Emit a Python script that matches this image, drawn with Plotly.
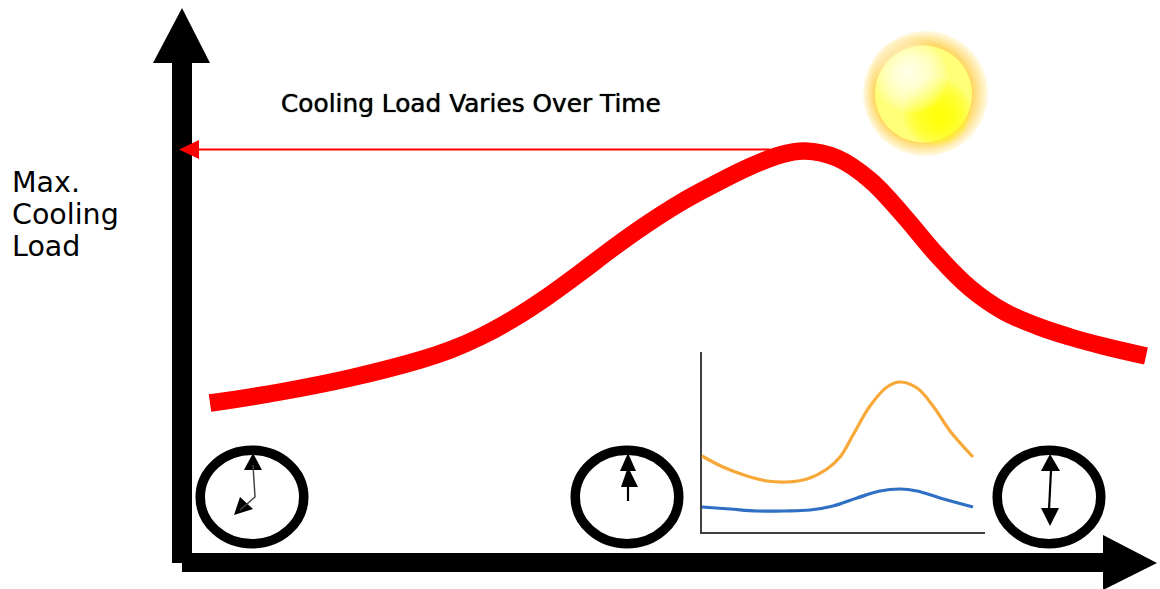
import plotly.graph_objects as go

# Main load curve and inset curves, read in picture units
load_x = [210, 280, 350, 420, 450, 480, 513, 547, 580, 613, 647, 680, 713, 747, 780, 805, 837, 870, 903, 937, 970, 1003, 1037, 1070, 1103, 1146]
load_y = [403, 392, 378, 360, 350, 337, 319, 297, 273, 248, 224, 203, 185, 168, 155, 151, 158, 180, 215, 255, 288, 311, 326, 337, 346, 356]
orange_x = [702, 723, 747, 767, 787, 807, 827, 840, 853, 870, 887, 900, 917, 933, 950, 973]
orange_y = [456, 467, 476, 481, 482, 479, 469, 457, 435, 406, 387, 382, 388, 406, 431, 457]
blue_x = [702, 730, 757, 785, 810, 833, 857, 880, 900, 917, 940, 973]
blue_y = [507, 509, 511, 511, 510, 506, 498, 491, 489, 491, 498, 507]
inset_axis_x = [701, 701, 985]
inset_axis_y = [352, 533, 533]
guide_x = [770, 196]
guide_y = [149.5, 149.5]
title_text = "Cooling Load Varies Over Time"
ylabel_lines = ["Max.", "Cooling", "Load"]
ylabel_y = [182, 214, 246]

clock_centers = [252, 627, 1049]
clock_cy = 497

polygons = [
    # main axes
    ("black", [172, 192, 192, 172], [63, 63, 563, 563]),
    ("black", [153, 182, 210], [63, 8, 63]),
    ("black", [182, 1104, 1104, 182], [553, 553, 572, 572]),
    ("black", [1103, 1157, 1103], [535, 563, 590]),
    # red guide arrow head
    ("#ff0000", [179, 199, 199], [149.5, 140, 159]),
    # clock hands heads
    ("black", [244, 253, 262], [470, 453, 470]),
    ("black", [234, 240, 253], [515, 497, 509]),
    ("black", [620, 628, 636], [471, 453, 471]),
    ("black", [621, 628, 638], [487, 467, 487]),
    ("black", [1041, 1050, 1060], [471, 454, 471]),
    ("black", [1041, 1050, 1059], [508, 526, 508]),
]
hands = [
    ([253, 255, 240], [465, 497, 510], 1.5, "#444444"),
    ([628, 628], [480, 501], 2.2, "black"),
    ([1051, 1049], [470, 510], 2.2, "black"),
]

fig = go.Figure()


def circle(cx, cy, r, col):
    return dict(type="circle", layer="below", x0=cx - r, x1=cx + r, y0=cy - r, y1=cy + r,
                fillcolor=col, line=dict(width=0))


shapes = []
# Sun halo: pale rim to warm ring
halo_steps = 14
for i in range(halo_steps):
    t = i / (halo_steps - 1)
    r = 62.5 - 13 * t
    col = f"rgb(255,{int(250 - 35 * t)},{int(225 - 125 * t)})"
    shapes.append(circle(925.5 - 2 * t, 93.5, r, col))
# Sun disc base
shapes.append(circle(923.5, 94, 48.5, "rgb(255,255,120)"))
# Saturated yellow towards lower right
for i in range(14):
    t = i / 13
    shapes.append(circle(937 + 4 * t, 112 + 6 * t, 30 * (1 - t) + 4, "rgba(255,255,0,0.14)"))
# White highlight towards upper left
for i in range(16):
    t = i / 15
    shapes.append(circle(911 - 3 * t, 76 - 4 * t, 34 * (1 - t) + 3, "rgba(255,255,255,0.10)"))

# Clock faces
for cx in clock_centers:
    shapes.append(dict(type="circle", x0=cx - 51.75, x1=cx + 51.75, y0=clock_cy - 46.75, y1=clock_cy + 46.75,
                       fillcolor="rgba(0,0,0,0)", line=dict(color="black", width=9.5)))

for color, px, py in polygons:
    fig.add_trace(go.Scatter(x=px + px[:1], y=py + py[:1], mode="lines", fill="toself", fillcolor=color,
                             line=dict(color=color, width=0), hoverinfo="skip", showlegend=False))
for hx, hy, w, c in hands:
    fig.add_trace(go.Scatter(x=hx, y=hy, mode="lines", line=dict(color=c, width=w), showlegend=False))

fig.add_trace(go.Scatter(x=guide_x, y=guide_y, mode="lines", line=dict(color="#ff0000", width=2), showlegend=False))
fig.add_trace(go.Scatter(x=inset_axis_x, y=inset_axis_y, mode="lines", line=dict(color="#404040", width=2), showlegend=False))
fig.add_trace(go.Scatter(x=orange_x, y=orange_y, mode="lines", line=dict(color="#f8a838", width=3.2, shape="spline", smoothing=1.1), showlegend=False))
fig.add_trace(go.Scatter(x=blue_x, y=blue_y, mode="lines", line=dict(color="#2f6fc4", width=3.2, shape="spline", smoothing=1.1), showlegend=False))
fig.add_trace(go.Scatter(x=load_x, y=load_y, mode="lines", line=dict(color="#ff0000", width=17.5, shape="spline", smoothing=1.1), showlegend=False))

annotations = [dict(x=279, y=103, text=title_text, showarrow=False, xanchor="left", yanchor="middle",
                    font=dict(family="DejaVu Sans", size=24.8, color="black", shadow="0 0 1px #000"))]
for line, y in zip(ylabel_lines, ylabel_y):
    annotations.append(dict(x=10, y=y, text=line, showarrow=False, xanchor="left", yanchor="middle",
                            font=dict(family="DejaVu Sans", size=28.5, color="black")))

fig.update_layout(
    width=1160, height=589, margin=dict(l=0, r=0, t=0, b=0),
    paper_bgcolor="white", plot_bgcolor="white", showlegend=False,
    xaxis=dict(range=[0, 1160], visible=False, fixedrange=True),
    yaxis=dict(range=[589, 0], visible=False, fixedrange=True),
    shapes=shapes, annotations=annotations,
)
fig.write_html("out.html", config=dict(displayModeBar=False),
               post_script="document.body.style.margin='0';document.documentElement.style.overflow='hidden';")
